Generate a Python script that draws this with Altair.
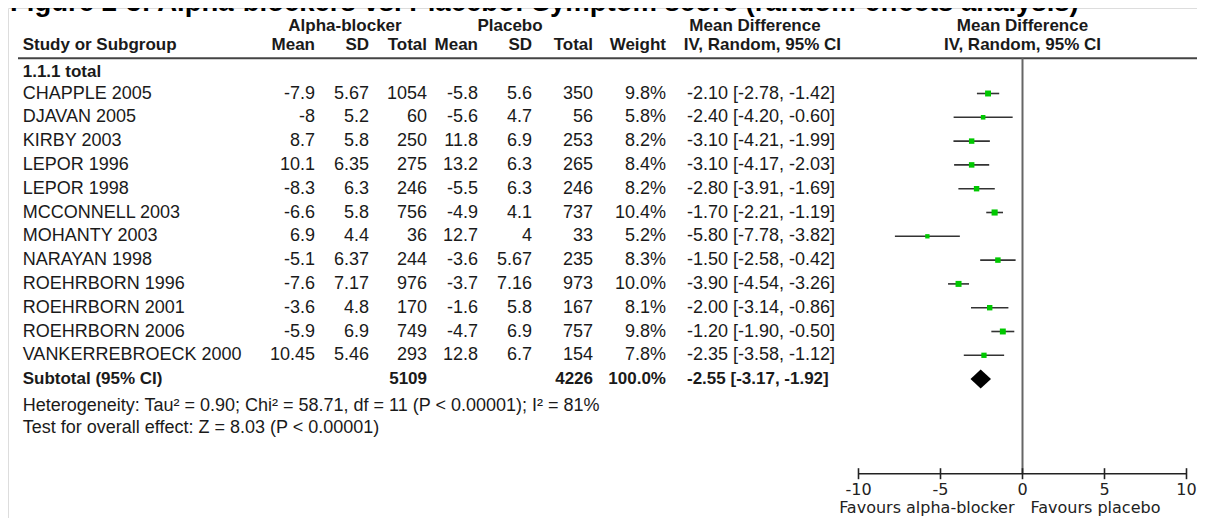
import altair as alt
import pandas as pd

# ---------------- data ----------------
studies = ["CHAPPLE 2005", "DJAVAN 2005", "KIRBY 2003", "LEPOR 1996", "LEPOR 1998",
           "MCCONNELL 2003", "MOHANTY 2003", "NARAYAN 1998", "ROEHRBORN 1996",
           "ROEHRBORN 2001", "ROEHRBORN 2006", "VANKERREBROECK 2000"]
alpha_mean = ["-7.9", "-8", "8.7", "10.1", "-8.3", "-6.6", "6.9", "-5.1", "-7.6", "-3.6", "-5.9", "10.45"]
alpha_sd = ["5.67", "5.2", "5.8", "6.35", "6.3", "5.8", "4.4", "6.37", "7.17", "4.8", "6.9", "5.46"]
alpha_n = [1054, 60, 250, 275, 246, 756, 36, 244, 976, 170, 749, 293]
plac_mean = ["-5.8", "-5.6", "11.8", "13.2", "-5.5", "-4.9", "12.7", "-3.6", "-3.7", "-1.6", "-4.7", "12.8"]
plac_sd = ["5.6", "4.7", "6.9", "6.3", "6.3", "4.1", "4", "5.67", "7.16", "5.8", "6.9", "6.7"]
plac_n = [350, 56, 253, 265, 246, 737, 33, 235, 973, 167, 757, 154]
weight = [9.8, 5.8, 8.2, 8.4, 8.2, 10.4, 5.2, 8.3, 10.0, 8.1, 9.8, 7.8]
md = [-2.10, -2.40, -3.10, -3.10, -2.80, -1.70, -5.80, -1.50, -3.90, -2.00, -1.20, -2.35]
ci_lo = [-2.78, -4.20, -4.21, -4.17, -3.91, -2.21, -7.78, -2.58, -4.54, -3.14, -1.90, -3.58]
ci_hi = [-1.42, -0.60, -1.99, -2.03, -1.69, -1.19, -3.82, -0.42, -3.26, -0.86, -0.50, -1.12]

subtotal_alpha_n = 5109
subtotal_plac_n = 4226
subtotal_weight = 100.0
subtotal_md = -2.55
subtotal_lo = -3.17
subtotal_hi = -1.92

axis_ticks = [-10, -5, 0, 5, 10]

title_text = "Figure 2-3: Alpha-blockers vs. Placebo: Symptom score (random-effects analysis)"
heterogeneity_text = "Heterogeneity: Tau\u00b2 = 0.90; Chi\u00b2 = 58.71, df = 11 (P < 0.00001); I\u00b2 = 81%"
overall_text = "Test for overall effect: Z = 8.03 (P < 0.00001)"

# ---------------- layout ----------------
W, H = 1189, 510
FONT = "Liberation Sans"
FS = 18        # regular table text
FSB = 17       # bold table text
AXFONT = "DejaVu Sans"
AXFS = 16
TXT = "#1a1a1a"

X_LEFT, X_RIGHT = 850.5, 1178.5
X_ZERO = (X_LEFT + X_RIGHT) / 2
xscale = alt.Scale(domain=[-10, 10], range=[X_LEFT, X_RIGHT], nice=False, zero=False)
yscale = alt.Scale(domain=[0, 11], range=[85.5, 347.3], nice=False, zero=False)
SUBTOTAL_ROW = 12
DIAMOND_HALF = 0.40  # half height of diamond in row units

# column right edges (table)
C_STUDY = 14.7
C_AM, C_ASD, C_AN = 307, 361, 419
C_PM, C_PSD, C_PN = 470, 524, 585
C_WT = 658
C_CI = 679

df = pd.DataFrame({
    "row": list(range(len(studies))),
    "study": studies,
    "am": alpha_mean, "asd": alpha_sd, "an": [str(v) for v in alpha_n],
    "pm": plac_mean, "psd": plac_sd, "pn": [str(v) for v in plac_n],
    "w": weight,
    "wt": [f"{v:.1f}%" for v in weight],
    "md": md, "lo": ci_lo, "hi": ci_hi,
    "ci": [f"{m:.2f} [{l:.2f}, {h:.2f}]" for m, l, h in zip(md, ci_lo, ci_hi)],
})

Y = alt.Y("row:Q", scale=yscale, axis=None)


def col(field, x, align="right"):
    return alt.Chart(df).mark_text(
        align=align, baseline="middle", font=FONT, fontSize=FS, color=TXT
    ).encode(x=alt.value(x), y=Y, text=f"{field}:N")


def label(s, x, y, align="left", bold=False, size=None, font=FONT):
    if size is None:
        size = FSB if bold else FS
    return alt.Chart(pd.DataFrame({"t": [s]})).mark_text(
        align=align, baseline="middle", font=font, fontSize=size,
        fontWeight="bold" if bold else "normal", color=TXT
    ).encode(x=alt.value(x), y=alt.value(y), text="t:N")


layers = []
# title (cut at the top edge as in the reference)
layers.append(alt.Chart(pd.DataFrame({"t": [title_text]})).mark_text(
    align="left", baseline="alphabetic", font=FONT, fontSize=27.5, fontWeight="bold", color="black"
).encode(x=alt.value(2), y=alt.value(3), text="t:N"))

# header rows
HY1, HY2 = 17.5, 37
layers += [
    label("Alpha-blocker", 337, HY1, "center", True),
    label("Placebo", 502, HY1, "center", True),
    label("Mean Difference", 747, HY1, "center", True),
    label("Mean Difference", X_ZERO, HY1, "center", True),
    label("Study or Subgroup", C_STUDY, HY2, "left", True),
    label("Mean", C_AM, HY2, "right", True),
    label("SD", C_ASD, HY2, "right", True),
    label("Total", C_AN, HY2, "right", True),
    label("Mean", C_PM, HY2, "right", True),
    label("SD", C_PSD, HY2, "right", True),
    label("Total", C_PN, HY2, "right", True),
    label("Weight", C_WT, HY2, "right", True),
    label("IV, Random, 95% CI", 833, HY2, "right", True),
    label("IV, Random, 95% CI", X_ZERO, HY2, "center", True),
    label("1.1.1 total", C_STUDY, 63.7, "left", True),
]

# header separator line
layers.append(alt.Chart(pd.DataFrame({"a": [0]})).mark_rule(color="#444444", strokeWidth=2).encode(
    x=alt.value(10), x2=alt.value(W), y=alt.value(50.3)))

# table columns
layers += [
    col("study", C_STUDY, "left"),
    col("am", C_AM), col("asd", C_ASD), col("an", C_AN),
    col("pm", C_PM), col("psd", C_PSD), col("pn", C_PN),
    col("wt", C_WT), col("ci", C_CI, "left"),
]

# subtotal row
SY = 371
layers += [
    label("Subtotal (95% CI)", C_STUDY, SY, "left", True),
    label(str(subtotal_alpha_n), C_AN, SY, "right", True),
    label(str(subtotal_plac_n), C_PN, SY, "right", True),
    label(f"{subtotal_weight:.1f}%", C_WT, SY, "right", True),
    label(f"{subtotal_md:.2f} [{subtotal_lo:.2f}, {subtotal_hi:.2f}]", C_CI, SY, "left", True),
    label(heterogeneity_text, C_STUDY, 398, "left"),
    label(overall_text, C_STUDY, 420, "left"),
]

AXY = 465.7
# zero line
layers.append(alt.Chart(pd.DataFrame({"z": [0]})).mark_rule(color="#666666", strokeWidth=2).encode(
    x=alt.X("z:Q", scale=xscale, axis=None), y=alt.value(50.3), y2=alt.value(AXY)))

# CI lines
layers.append(alt.Chart(df).mark_rule(color="#333333", strokeWidth=1.6).encode(
    x=alt.X("lo:Q", scale=xscale, axis=None), x2="hi:Q", y=Y))

# squares (area proportional to weight)
layers.append(alt.Chart(df).transform_calculate(sz="datum.w * 3.6").mark_square(
    color="#00c800", opacity=1, filled=True).encode(
    x=alt.X("md:Q", scale=xscale, axis=None), y=Y, size=alt.Size("sz:Q", scale=None, legend=None)))

# diamond for the pooled estimate
dia = pd.DataFrame({
    "x": [subtotal_lo, subtotal_md, subtotal_hi],
    "y1": [SUBTOTAL_ROW, SUBTOTAL_ROW - DIAMOND_HALF, SUBTOTAL_ROW],
    "y2": [SUBTOTAL_ROW, SUBTOTAL_ROW + DIAMOND_HALF, SUBTOTAL_ROW],
})
layers.append(alt.Chart(dia).mark_area(color="black", opacity=1, orient="vertical").encode(
    x=alt.X("x:Q", scale=xscale, axis=None),
    y=alt.Y("y1:Q", scale=yscale, axis=None), y2="y2:Q"))

# hand-drawn axis with centred ticks
ax = pd.DataFrame({"t": axis_ticks, "lab": [str(t) for t in axis_ticks]})
layers.append(alt.Chart(pd.DataFrame({"a": [min(axis_ticks)], "b": [max(axis_ticks)]})).mark_rule(
    color="#222222", strokeWidth=1.6).encode(
    x=alt.X("a:Q", scale=xscale, axis=None), x2="b:Q", y=alt.value(AXY)))
layers.append(alt.Chart(ax).mark_rule(color="#222222", strokeWidth=1.6).encode(
    x=alt.X("t:Q", scale=xscale, axis=None), y=alt.value(AXY - 5.5), y2=alt.value(AXY + 5.5)))
layers.append(alt.Chart(ax).mark_text(baseline="middle", align="center", font=AXFONT, fontSize=AXFS,
                                      color="#222222").encode(
    x=alt.X("t:Q", scale=xscale, axis=None), y=alt.value(AXY + 16), text="lab:N"))

fav = pd.DataFrame({"z": [0]})
layers.append(alt.Chart(fav).mark_text(baseline="middle", align="right", dx=-8, font=AXFONT,
                                       fontSize=AXFS, color="#222222").encode(
    x=alt.X("z:Q", scale=xscale, axis=None), y=alt.value(AXY + 34), text=alt.value("Favours alpha-blocker")))
layers.append(alt.Chart(fav).mark_text(baseline="middle", align="left", dx=8, font=AXFONT,
                                       fontSize=AXFS, color="#222222").encode(
    x=alt.X("z:Q", scale=xscale, axis=None), y=alt.value(AXY + 34), text=alt.value("Favours placebo")))

chart = alt.layer(*layers).properties(
    width=W, height=H, autosize=alt.AutoSizeParams(type="none"), padding=0
).configure_view(stroke=None).configure(background="white")

chart.save("out.html", embed_options={"renderer": "svg", "actions": False})
